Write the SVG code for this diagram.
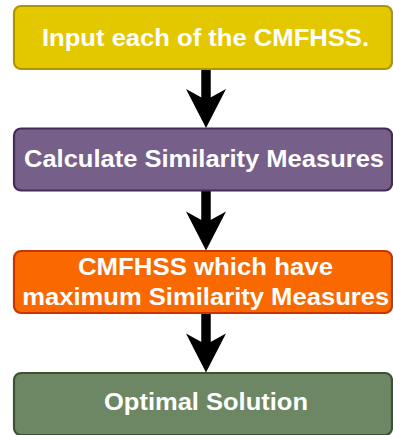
<svg xmlns="http://www.w3.org/2000/svg" width="393" height="435" viewBox="0 0 393 435">
<style>
.box{stroke-width:2.2}
.t{font-family:"Liberation Sans",Arial,Helvetica,sans-serif;font-weight:bold;font-size:24px;fill:#ffffff;text-anchor:middle}
.shaft{stroke:#000;stroke-width:9.5;fill:none}
.head{fill:#000;stroke:none}
</style>
<rect width="393" height="435" fill="#ffffff"/>
<g id="connectors">
<line class="shaft" x1="206" y1="69" x2="206" y2="102"/>
<path class="head" d="M206,128 L186,89 L206,100 L226,89 Z"/>
<line class="shaft" x1="206" y1="191" x2="206" y2="224"/>
<path class="head" d="M206,250.5 L186,211.5 L206,222.5 L226,211.5 Z"/>
<line class="shaft" x1="206" y1="313" x2="206" y2="346"/>
<path class="head" d="M206,372.5 L186,333.5 L206,344.5 L226,333.5 Z"/>
</g>
<g id="node1">
<rect class="box" x="14" y="6" width="378" height="63" rx="7" fill="#e3c800" stroke="#b09500"/>
<text class="t" x="205.5" y="45.5" textLength="327" lengthAdjust="spacingAndGlyphs">Input each of the CMFHSS.</text>
</g>
<g id="node2">
<rect class="box" x="14" y="128.5" width="378" height="62" rx="7" fill="#76608a" stroke="#432d57"/>
<text class="t" x="204" y="166.5" textLength="360" lengthAdjust="spacingAndGlyphs">Calculate Similarity Measures</text>
</g>
<g id="node3">
<rect class="box" x="14" y="251" width="378" height="62" rx="7" fill="#fa6800" stroke="#c73500"/>
<text class="t" x="205.5" y="275" textLength="255" lengthAdjust="spacingAndGlyphs">CMFHSS which have</text>
<text class="t" x="205.7" y="304.5" textLength="367" lengthAdjust="spacingAndGlyphs">maximum Similarity Measures</text>
</g>
<g id="node4">
<rect class="box" x="14" y="373" width="378" height="62" rx="7" fill="#6d8764" stroke="#3a5431"/>
<text class="t" x="206" y="409.5" textLength="204" lengthAdjust="spacingAndGlyphs">Optimal Solution</text>
</g>
</svg>
